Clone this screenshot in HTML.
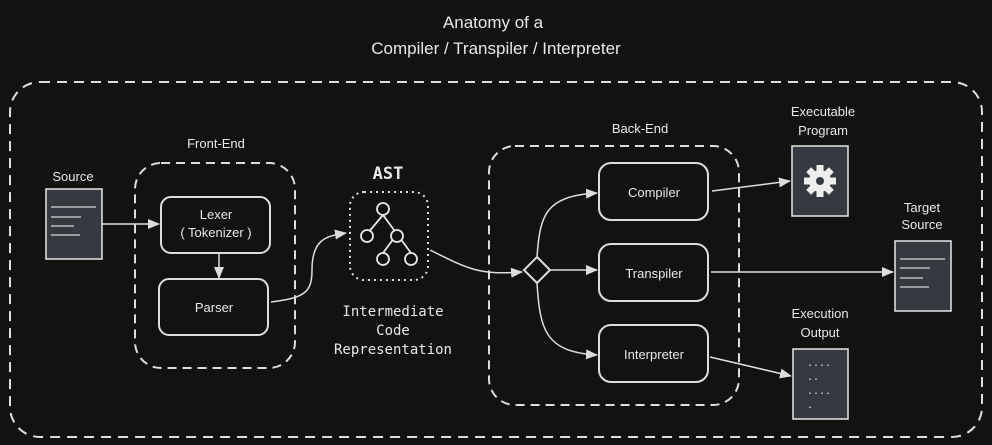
<!DOCTYPE html>
<html><head><meta charset="utf-8"><style>
html,body{margin:0;padding:0;background:#121212;}
svg{display:block}
text{fill:#e8e8e8;font-family:"Liberation Sans",sans-serif;}
.m text{font-family:"DejaVu Sans Mono","Liberation Mono",monospace;}
</style></head><body>
<svg width="992" height="445" viewBox="0 0 992 445" xmlns="http://www.w3.org/2000/svg">
<defs><marker id="a" markerWidth="12" markerHeight="10" refX="11" refY="5" orient="auto" markerUnits="userSpaceOnUse"><path d="M0,0 L12,5 L0,10 Z" fill="#ddd"/></marker></defs>
<g text-anchor="middle" font-size="17">
<text x="493" y="28">Anatomy of a</text>
<text x="496" y="54">Compiler / Transpiler / Interpreter</text>
</g>
<g fill="none" stroke="#ddd" stroke-width="2">
<rect x="10" y="82" width="972" height="355" rx="30" stroke-dasharray="10 7"/>
<rect x="135" y="163" width="160" height="205" rx="26" stroke-dasharray="9 6"/>
<rect x="489" y="146" width="250" height="259" rx="26" stroke-dasharray="9 6"/>
<rect x="350" y="192" width="78" height="88" rx="14" stroke-dasharray="2 4"/>
<rect x="161" y="197" width="109" height="56" rx="10"/>
<rect x="159" y="279" width="109" height="56" rx="10"/>
<rect x="599" y="163" width="109" height="57" rx="12"/>
<rect x="599" y="244" width="109" height="57" rx="12"/>
<rect x="599" y="325" width="109" height="57" rx="12"/>
<path d="M537,257 L550,270 L537,283 L524,270 Z"/>
</g>
<g stroke="#ddd" stroke-width="1.5" fill="none" marker-end="url(#a)">
<path d="M102,224 L159,224"/>
<path d="M219,254 L219,278"/>
<path d="M271,302 C305,298 312,292 312,270 C312,240 325,236 346,233"/>
<path d="M430,250 C470,270 480,275 522,272"/>
<path d="M537,257 C540,215 545,196 597,193"/>
<path d="M550,270 L597,270"/>
<path d="M537,283 C540,330 545,352 597,355"/>
<path d="M712,191 L790,181"/>
<path d="M711,272 L893,272"/>
<path d="M710,357 L791,376"/>
</g>
<g fill="#343a40" stroke="#e8e8e8" stroke-width="1.5">
<rect x="46" y="189" width="56" height="70"/>
<rect x="792" y="146" width="56" height="70"/>
<rect x="895" y="241" width="56" height="70"/>
<rect x="793" y="349" width="55" height="70"/>
</g>
<g stroke="#bbb" stroke-width="1.5">
<path d="M51,207h45M51,217h30M51,226h23M51,235h29"/>
<path d="M900,259h45M900,268h30M900,278h23M900,287h29"/>
</g>
<g font-size="10" class="m"><text x="807" y="366">....</text><text x="807" y="380">..</text><text x="807" y="394">....</text><text x="807" y="408">.</text></g>
<g transform="translate(820,181)" fill="#eee">
<circle r="11"/>
<g><rect x="-3.5" y="-16" width="7" height="32"/><rect x="-3.5" y="-16" width="7" height="32" transform="rotate(45)"/><rect x="-3.5" y="-16" width="7" height="32" transform="rotate(90)"/><rect x="-3.5" y="-16" width="7" height="32" transform="rotate(135)"/></g>
<circle r="4" fill="#343a40"/>
</g>
<g stroke="#e8e8e8" stroke-width="1.8" fill="none">
<path d="M383,215 L367,234 M383,215 L397,234 M397,234 L383,253 M397,234 L411,253"/>
<circle cx="383" cy="209" r="6" fill="#121212"/><circle cx="367" cy="236" r="6" fill="#121212"/><circle cx="397" cy="236" r="6" fill="#121212"/><circle cx="383" cy="259" r="6" fill="#121212"/><circle cx="411" cy="259" r="6" fill="#121212"/>
</g>
<g text-anchor="middle" font-size="13">
<text x="216" y="148">Front-End</text>
<text x="73" y="181">Source</text>
<text x="216" y="219">Lexer</text>
<text x="216" y="237">( Tokenizer )</text>
<text x="214" y="312">Parser</text>
<text x="640" y="133">Back-End</text>
<text x="654" y="197">Compiler</text>
<text x="654" y="278">Transpiler</text>
<text x="654" y="359">Interpreter</text>
<text x="823" y="116">Executable</text>
<text x="823" y="135">Program</text>
<text x="922" y="212">Target</text>
<text x="922" y="229">Source</text>
<text x="820" y="318">Execution</text>
<text x="820" y="337">Output</text>
</g>
<g text-anchor="middle" class="m">
<text x="388" y="179" font-size="17" font-weight="bold">AST</text>
<text x="393" y="316" font-size="14">Intermediate</text>
<text x="393" y="335" font-size="14">Code</text>
<text x="393" y="354" font-size="14">Representation</text>
</g>
</svg>
</body></html>
